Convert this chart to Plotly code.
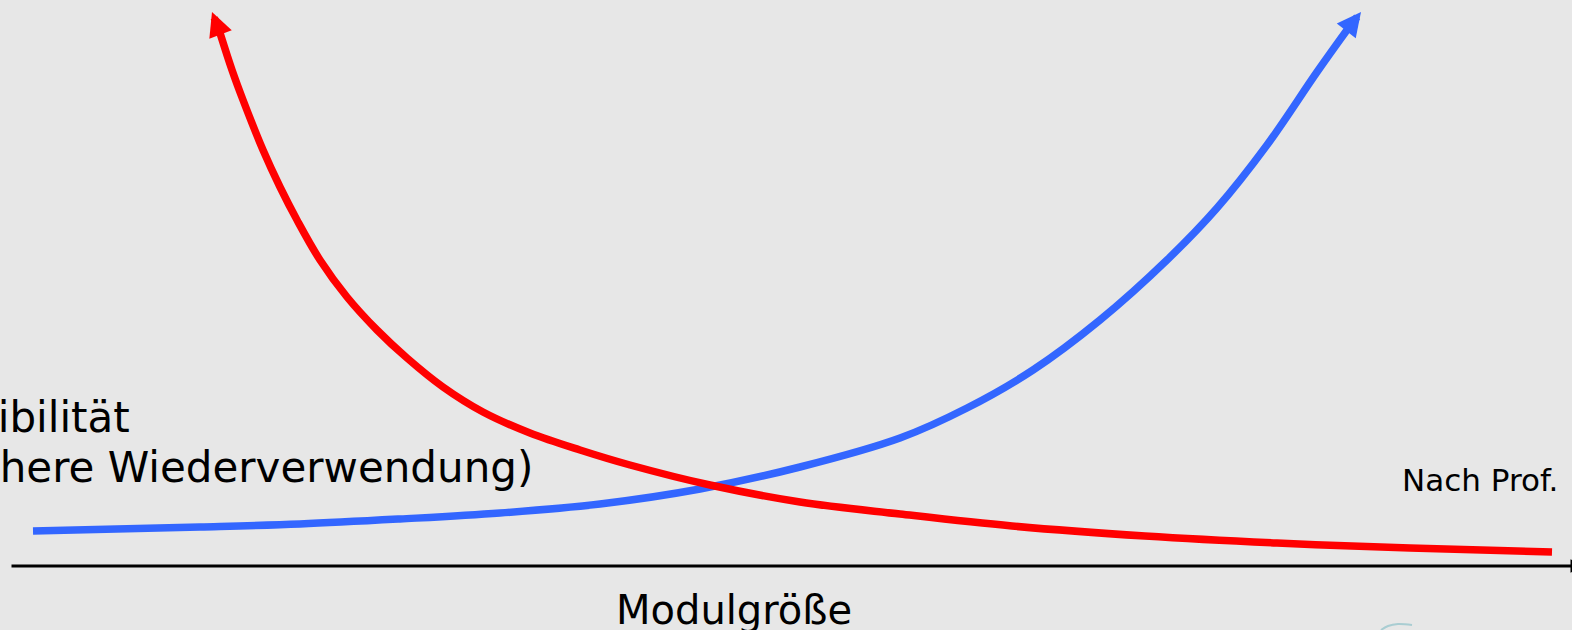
import plotly.graph_objects as go

# ---- data (in image pixel units: x right, y down) ----
red_x = [220, 232, 243, 263, 280, 297, 320, 347, 377, 407, 443, 483, 530, 580, 630, 710, 800, 900, 1012, 1145, 1277, 1410, 1552]
red_y = [33, 70, 100, 150, 187, 220, 260, 297, 330, 358, 387, 412, 433, 450, 465, 485, 502, 514, 526, 536, 543, 548, 552]
red_tip = (212, 12)

blue_x = [33, 200, 300, 400, 500, 600, 700, 800, 900, 967, 1033, 1100, 1167, 1217, 1267, 1317, 1347]
blue_y = [531, 527, 524, 519, 513, 504, 489, 467, 438, 408, 370, 320, 260, 208, 145, 72, 30]
blue_tip = (1361, 12)

axis_start = (10, 566)
axis_end = (1584, 566)

logo_x = [1381, 1388, 1398, 1412]
logo_y = [630, 626, 624, 625]

labels = ["Flexibilität", "(höhere Wiederverwendung)", "Modulgröße", "Nach Prof."]

RED = "#ff0000"
BLUE = "#3366ff"
BG = "#e7e7e7"
FONT = "DejaVu Sans"

fig = go.Figure()

fig.add_trace(go.Scatter(x=blue_x, y=blue_y, mode="lines",
                         line=dict(color=BLUE, width=7.5, shape="spline", smoothing=1.0),
                         hoverinfo="skip", showlegend=False))
fig.add_trace(go.Scatter(x=red_x, y=red_y, mode="lines",
                         line=dict(color=RED, width=7.5, shape="spline", smoothing=1.0),
                         hoverinfo="skip", showlegend=False))
fig.add_trace(go.Scatter(x=logo_x, y=logo_y, mode="lines",
                         line=dict(color="#a9cdd2", width=2, shape="spline"),
                         hoverinfo="skip", showlegend=False, cliponaxis=False))

annotations = []
# arrow heads of the curves
annotations.append(dict(x=red_tip[0], y=red_tip[1], ax=red_x[0], ay=red_y[0],
                        xref="x", yref="y", axref="x", ayref="y",
                        showarrow=True, arrowhead=2, arrowsize=0.64, arrowwidth=7.5,
                        arrowcolor=RED, text=""))
annotations.append(dict(x=blue_tip[0], y=blue_tip[1], ax=blue_x[-1], ay=blue_y[-1],
                        xref="x", yref="y", axref="x", ayref="y",
                        showarrow=True, arrowhead=2, arrowsize=0.64, arrowwidth=7.5,
                        arrowcolor=BLUE, text=""))
# x axis with arrow
annotations.append(dict(x=axis_end[0], y=axis_end[1], ax=axis_start[0], ay=axis_start[1],
                        xref="x", yref="y", axref="x", ayref="y",
                        showarrow=True, arrowhead=2, arrowsize=0.9, arrowwidth=3,
                        arrowcolor="black", text=""))
# texts
annotations.append(dict(x=132, y=444, xref="x", yref="y", text=labels[0], showarrow=False,
                        xanchor="right", yanchor="bottom", font=dict(family=FONT, size=42, color="black")))
annotations.append(dict(x=535, y=494, xref="x", yref="y", text=labels[1], showarrow=False,
                        xanchor="right", yanchor="bottom", font=dict(family=FONT, size=42, color="black")))
annotations.append(dict(x=614, y=630, yshift=-5, xref="x", yref="y", text=labels[2], showarrow=False,
                        xanchor="left", yanchor="bottom", font=dict(family=FONT, size=40, color="black")))
annotations.append(dict(x=1400, y=500, xref="x", yref="y", text=labels[3], showarrow=False,
                        xanchor="left", yanchor="bottom", font=dict(family=FONT, size=31, color="black")))

fig.update_layout(
    width=1572, height=630,
    margin=dict(l=0, r=0, t=0, b=0),
    paper_bgcolor=BG, plot_bgcolor=BG,
    xaxis=dict(range=[0, 1572], visible=False, fixedrange=True),
    yaxis=dict(range=[630, 0], visible=False, fixedrange=True),
    annotations=annotations,
    showlegend=False,
)

fig.write_html("out.html", config={"displayModeBar": False},
               post_script="document.body.style.margin='0px';document.body.style.padding='0px';"
                           "document.body.style.background='%s';" % BG)
